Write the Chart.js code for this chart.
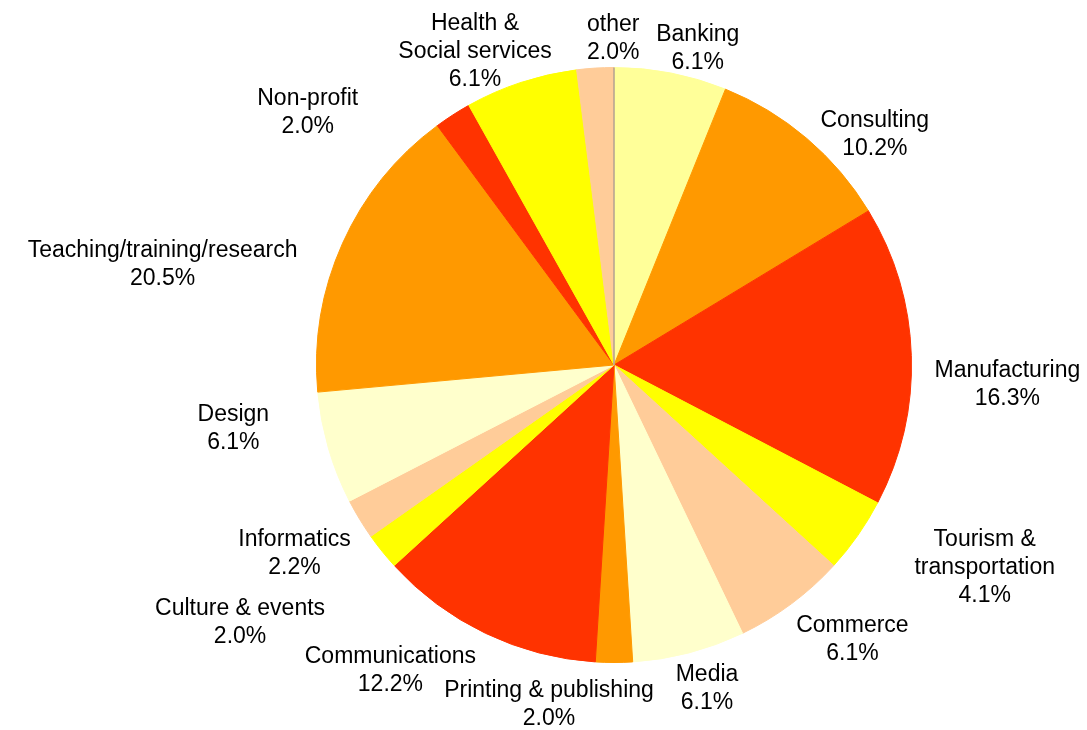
<!DOCTYPE html>
<html>
<head>
<meta charset="utf-8">
<script src="https://cdn.jsdelivr.net/npm/chart.js@4/dist/chart.umd.min.js"></script>
<style>
  html, body { margin: 0; padding: 0; background: #fff; }
  #wrap { width: 1087px; height: 730px; position: relative; }
</style>
</head>
<body>
<div id="wrap"><canvas id="pie"></canvas></div>
<script>
// sectors, clockwise from 12 o'clock
var categories = ['Banking', 'Consulting', 'Manufacturing', 'Tourism & transportation', 'Commerce', 'Media',
    'Printing & publishing', 'Communications', 'Culture & events', 'Informatics', 'Design',
    'Teaching/training/research', 'Non-profit', 'Health & Social services', 'other']
// slice sizes as drawn in the picture
var shares = [6.1, 10.2, 16.3, 4.1, 6.1, 6.1, 2.0, 12.2, 2.0, 2.2, 6.1, 16.3, 2.0, 6.1, 2.0]
// percentages printed next to the slices
var pctLabels = ['6.1%', '10.2%', '16.3%', '4.1%', '6.1%', '6.1%', '2.0%', '12.2%', '2.0%', '2.2%', '6.1%',
    '20.5%', '2.0%', '6.1%', '2.0%']
var nameLines = [['Banking'], ['Consulting'], ['Manufacturing'], ['Tourism &', 'transportation'], ['Commerce'],
    ['Media'], ['Printing & publishing'], ['Communications'], ['Culture & events'], ['Informatics'], ['Design'],
    ['Teaching/training/research'], ['Non-profit'], ['Health &', 'Social services'], ['other']]

var colors = ['#FFFF99', '#FF9900', '#FF3300', '#FFFF00', '#FFCC99', '#FFFFCC',
    '#FF9900', '#FF3300', '#FFFF00', '#FFCC99', '#FFFFCC', '#FF9900', '#FF3300', '#FFFF00', '#FFCC99']

// label block shift from the point on the rim at the slice's middle angle
var labelShift = [[27, -26], [68, -6], [96, 27], [127, 30], [61, 34], [18, 34], [-65, 40], [-95, 35],
    [-142, 69], [-65, 33], [-95, -21], [-180, 20], [-145, -4], [-46, -33], [18, -31]]

var fontSize = 23
var lineGap = 28

var pieLabels = {
    id: 'pieLabels',
    afterDatasetsDraw(chart) {
        var ctx = chart.ctx
        var arcs = chart.getDatasetMeta(0).data

        // thin grey seam at the start angle
        var a0 = arcs[0]
        ctx.save()
        ctx.strokeStyle = '#8c8c8c'
        ctx.lineWidth = 1
        ctx.beginPath()
        ctx.moveTo(a0.x, a0.y)
        ctx.lineTo(a0.x + Math.cos(a0.startAngle) * a0.outerRadius, a0.y + Math.sin(a0.startAngle) * a0.outerRadius)
        ctx.stroke()

        ctx.fillStyle = '#000'
        ctx.font = fontSize + 'px "Liberation Sans", Arial, sans-serif'
        ctx.textAlign = 'center'
        ctx.textBaseline = 'alphabetic'
        for (var i = 0; i < arcs.length; i++) {
            var arc = arcs[i]
            var mid = (arc.startAngle + arc.endAngle) / 2
            var ax = arc.x + Math.cos(mid) * arc.outerRadius
            var ay = arc.y + Math.sin(mid) * arc.outerRadius
            var lines = nameLines[i].concat([pctLabels[i]])
            var cx = ax + labelShift[i][0]
            var cy = ay + labelShift[i][1]
            var top = cy - (lines.length - 1) * lineGap / 2
            for (var j = 0; j < lines.length; j++) {
                ctx.fillText(lines[j], cx, top + j * lineGap + fontSize * 0.358)
            }
        }
        ctx.restore()
    }
}

var ctx = document.getElementById('pie').getContext('2d')
var myChart = new Chart(ctx, {
    type: 'pie',
    data: {
        labels: categories,
        datasets: [{
            data: shares,
            backgroundColor: colors,
            borderColor: colors,
            borderWidth: 1
        }]
    },
    options: {
        responsive: true,
        maintainAspectRatio: false,
        animation: false,
        layout: { padding: { left: 316, right: 175, top: 67, bottom: 67 } },
        plugins: {
            legend: { display: false },
            tooltip: { enabled: false }
        }
    },
    plugins: [pieLabels]
})
</script>
</body>
</html>
